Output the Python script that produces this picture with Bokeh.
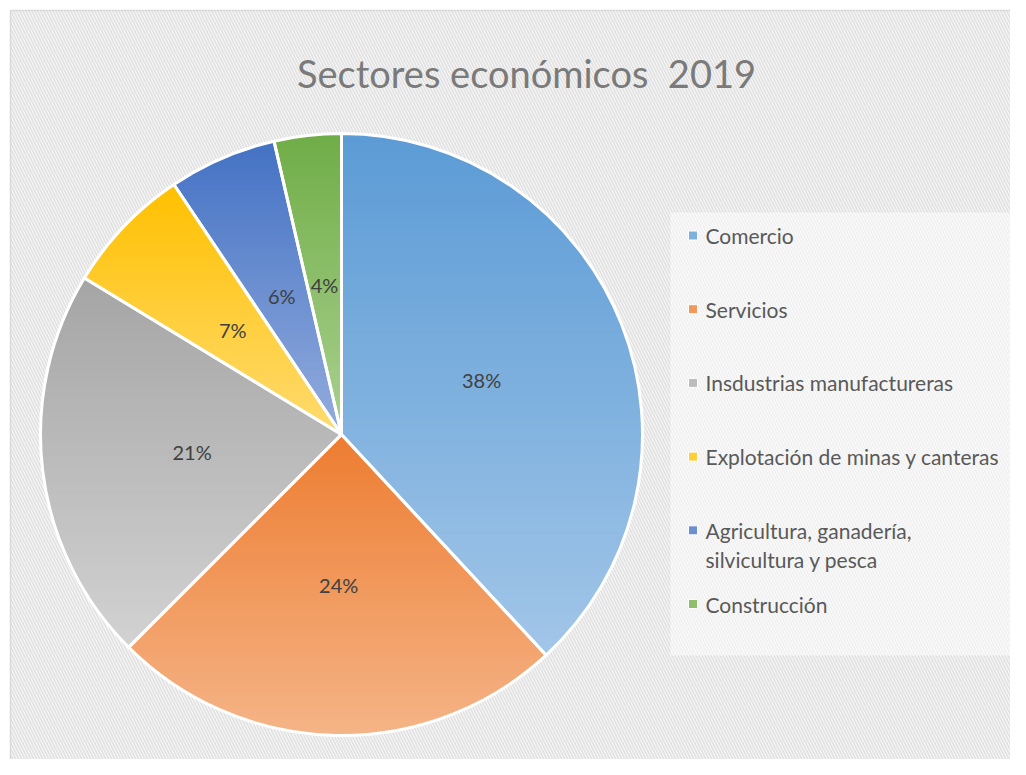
import math
from bokeh.plotting import figure
from bokeh.models import Range1d
from bokeh.embed import file_html
from bokeh.resources import INLINE
from bokeh.core.properties import value

# ---------------- data ----------------
title_text = "Sectores económicos \u00a02019"
categories = ["Comercio", "Servicios", "Insdustrias manufactureras",
              "Explotación de minas y canteras",
              "Agricultura, ganadería,\nsilvicultura y pesca", "Construcción"]
shares = [38.1, 24.4, 21.2, 6.9, 5.8, 3.6]
pct_labels = ["38%", "24%", "21%", "7%", "6%", "4%"]
top_colors = ["#5B9BD5", "#ED7D31", "#A5A5A5", "#FFC000", "#4472C4", "#70AD47"]
bottom_colors = ["#A2C6E8", "#F5B487", "#D2D2D2", "#FFDB70", "#93ACDD", "#AAD190"]

# ---------------- layout ----------------
W, H = 1010, 759
REF_H = 775


def Y(ys):
    return REF_H - ys


p = figure(width=W, height=H, x_range=Range1d(0, W), y_range=Range1d(REF_H - H, REF_H),
           output_backend="svg", toolbar_location=None, min_border=0,
           x_axis_type=None, y_axis_type=None)
p.grid.visible = False
p.outline_line_color = None
p.background_fill_color = "white"
p.border_fill_color = "white"

FONT = "Lato"

# chart area background with diagonal hatch
p.quad(left=10, right=1040, bottom=-10, top=Y(10), fill_color="white",
       hatch_pattern="left_diagonal_line", hatch_color="#E3E3E3", hatch_scale=6,
       hatch_weight=2, line_color="#D9D9D9", line_width=1.5)

# legend area (lighter)
p.quad(left=670, right=1040, top=Y(212), bottom=Y(655), fill_color="white",
       fill_alpha=0.5, line_color=None)

# title
p.text(x=[526], y=[Y(72)], text=[title_text], text_font=value(FONT),
       text_font_size="38px", text_color="#7A7A7A", text_align="center",
       text_baseline="alphabetic")

# ---------------- pie ----------------
cx, cy, r = 341, Y(434), 301
total = sum(shares)
cum = [0.0]
for s in shares:
    cum.append(cum[-1] + s / total)


def hex2rgb(h):
    h = h.lstrip("#")
    return tuple(int(h[i:i + 2], 16) for i in (0, 2, 4))


def mix(c1, c2, t):
    a, b = hex2rgb(c1), hex2rgb(c2)
    return "#%02x%02x%02x" % tuple(int(round(a[k] + (b[k] - a[k]) * t)) for k in range(3))


def clip(poly, yv, keep_below):
    out = []
    n = len(poly)
    for i in range(n):
        P, Q = poly[i], poly[(i + 1) % n]
        pin = (P[1] <= yv) if keep_below else (P[1] >= yv)
        qin = (Q[1] <= yv) if keep_below else (Q[1] >= yv)
        if pin:
            out.append(P)
        if pin != qin:
            t = (yv - P[1]) / (Q[1] - P[1])
            out.append((P[0] + t * (Q[0] - P[0]), yv))
    return out


band_xs, band_ys, band_cols = [], [], []
starts, ends, mid_cols = [], [], []
for i in range(len(shares)):
    t0, t1 = 2 * math.pi * cum[i], 2 * math.pi * cum[i + 1]
    starts.append(math.pi / 2 - t0)
    ends.append(math.pi / 2 - t1)
    mid_cols.append(mix(top_colors[i], bottom_colors[i], 0.5))
    n = max(8, int((t1 - t0) / 0.01))
    poly = [(cx, cy)] + [(cx + r * math.sin(t0 + (t1 - t0) * k / n),
                          cy + r * math.cos(t0 + (t1 - t0) * k / n)) for k in range(n + 1)]
    ymin = min(q[1] for q in poly)
    ymax = max(q[1] for q in poly)
    nb = 60
    for b in range(nb):
        yt = ymax - (ymax - ymin) * b / nb
        yb = ymax - (ymax - ymin) * (b + 1) / nb
        pc = clip(clip(poly, yt, True), yb, False)
        if len(pc) < 3:
            continue
        band_xs.append([q[0] for q in pc])
        band_ys.append([q[1] for q in pc])
        band_cols.append(mix(top_colors[i], bottom_colors[i], (b + 0.5) / nb))

p.wedge(x=cx, y=cy, radius=r, start_angle=starts, end_angle=ends, direction="clock",
        fill_color=mid_cols, line_color=None)
p.patches(xs=band_xs, ys=band_ys, fill_color=band_cols, line_color=band_cols, line_width=1)
p.wedge(x=cx, y=cy, radius=r, start_angle=starts, end_angle=ends, direction="clock",
        fill_alpha=0, line_color="white", line_width=3)

# data labels at half radius along each slice's mid angle
lx, ly = [], []
for i in range(len(shares)):
    tm = math.pi * (cum[i] + cum[i + 1])
    lx.append(cx + 0.5 * r * math.sin(tm))
    ly.append(cy + 0.5 * r * math.cos(tm))
p.text(x=lx, y=ly, text=pct_labels, text_font=value(FONT), text_font_size="20px",
       text_color="#404040", text_align="center", text_baseline="middle")

# ---------------- legend ----------------
leg_y0, leg_dy, line_px = 235, 73.7, 29
for i, cat in enumerate(categories):
    ys = leg_y0 + i * leg_dy
    nlines = cat.count("\n") + 1
    p.rect(x=[692.5], y=[Y(ys)], width=9, height=9, fill_color=mid_cols[i],
           line_color="white", line_width=1)
    p.text(x=[705], y=[Y(ys + (nlines - 1) * line_px / 2)], text=[cat],
           text_font=value(FONT), text_font_size="21px", text_color="#595959",
           text_align="left", text_baseline="middle", text_line_height=1.15)

open("out.html", "w").write(file_html(p, INLINE))
